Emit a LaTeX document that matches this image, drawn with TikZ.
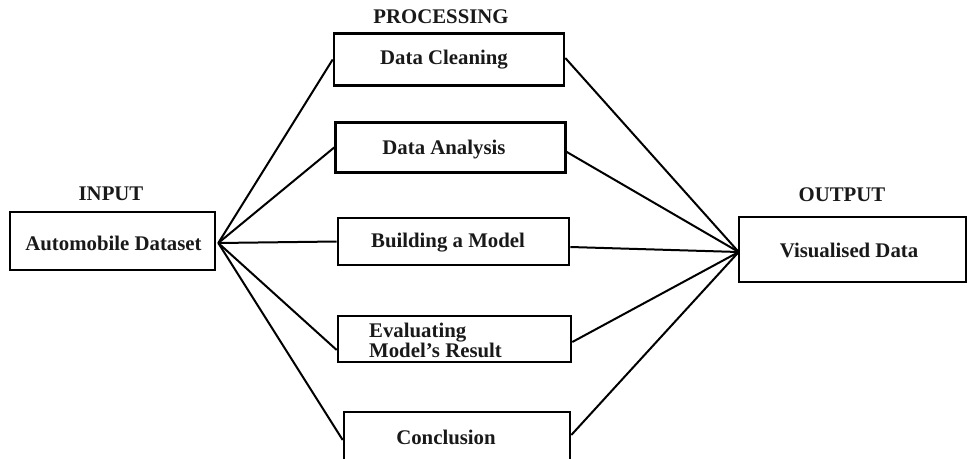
\documentclass[tikz,border=0pt]{standalone}
\usepackage{fontspec}
\setmainfont{Liberation Serif}
\usetikzlibrary{calc}
\begin{document}
\begin{tikzpicture}[x=1pt,y=-1pt,
  box/.style={draw=black, line width=2.6pt, rectangle, inner sep=0pt},
  txt/.style={font=\fontsize{20.8}{20}\selectfont\bfseries, inner sep=0pt, text=black!90},
  conn/.style={draw=black, line width=2pt}]
\useasboundingbox (0,0) rectangle (971,458);
% boxes
\node[box, minimum width=205pt, minimum height=58pt] (in) at (112.5,241) {};
\node[box, minimum width=230pt, minimum height=52pt] (dc) at (449,59.5) {};
\node[box, minimum width=230pt, minimum height=50pt] (da) at (450.5,147.5) {};
\node[box, minimum width=231pt, minimum height=47pt] (bm) at (453.5,241.5) {};
\node[box, minimum width=233pt, minimum height=46pt] (ev) at (454.5,339) {};
\node[box, minimum width=226pt, minimum height=50pt] (co) at (457,437) {};
\node[box, minimum width=227pt, minimum height=65pt] (out) at (852.5,249.5) {};
% texts
\node[txt] (tin) at (111,194) {INPUT};
\node[txt] (tproc) at (441,17) {PROCESSING};
\node[txt] (tout) at (842,195) {OUTPUT};
\node[txt] (lin) at (113.5,243) {Automobile Dataset};
\node[txt] (ldc) at (444,60) {Data Cleaning};
\node[txt] (lda) at (444,150) {Data Analysis};
\node[txt] (lbm) at (448,243) {Building a Model};
\node[txt, align=left, anchor=west] (lev) at (369,340) {Evaluating\\Model’s Result};
\node[txt] (lco) at (446,437) {Conclusion};
\node[txt] (lout) at (849,250) {Visualised Data};
% hubs
\coordinate (hin) at ($(in.east)+(2,2)$);
\coordinate (hout) at ($(out.west)+(1,2.5)$);
% connectors from input
\draw[conn] (hin) -- (dc.west);
\draw[conn] (hin) -- (da.west);
\draw[conn] (hin) -- (bm.west);
\draw[conn] (hin) -- ($(ev.west)+(0,11)$);
\draw[conn] (hin) -- ($(co.west)+(0,3)$);
% connectors to output
\draw[conn] ($(dc.east)+(0,-1.5)$) -- (hout);
\draw[conn] ($(da.east)+(0,4.5)$) -- (hout);
\draw[conn] ($(bm.east)+(0,5.5)$) -- (hout);
\draw[conn] ($(ev.east)+(0,3)$) -- (hout);
\draw[conn] ($(co.east)+(0,-2)$) -- (hout);
\end{tikzpicture}
\end{document}
